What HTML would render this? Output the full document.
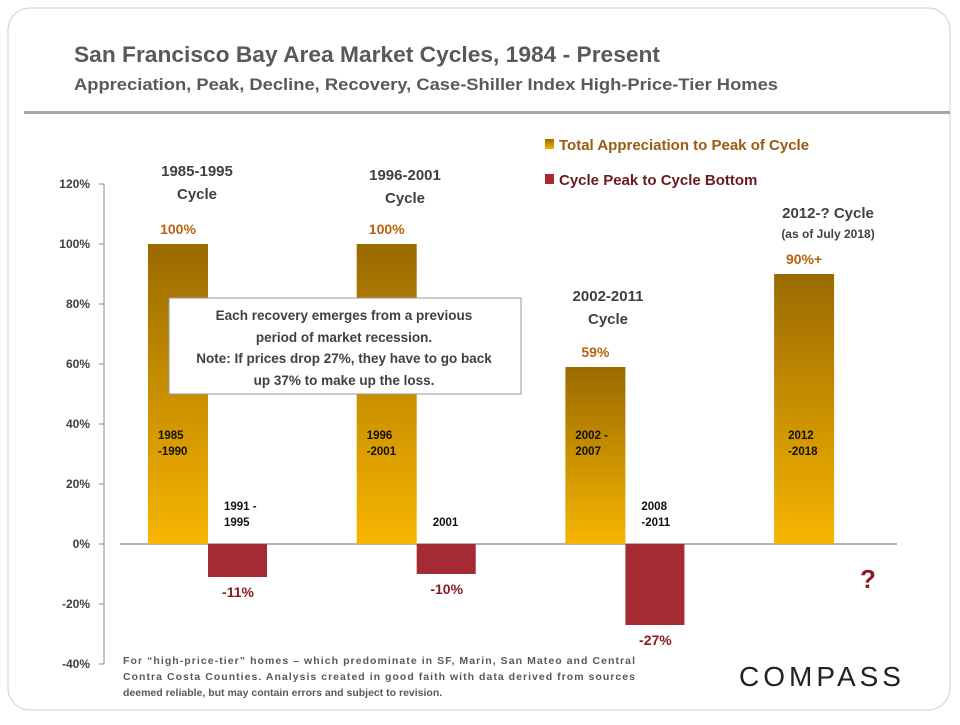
<!DOCTYPE html>
<html><head><meta charset="utf-8"><style>
body{margin:0;width:960px;height:720px;background:#fff;font-family:"Liberation Sans",sans-serif;overflow:hidden}
</style></head><body>
<svg width="960" height="720" xmlns="http://www.w3.org/2000/svg">
<defs>
<linearGradient id="gold" x1="0" y1="0" x2="0" y2="1"><stop offset="0" stop-color="#9a6a00"/><stop offset="1" stop-color="#f7b500"/></linearGradient>
</defs>
<rect x="8" y="8" width="942" height="702" rx="22" fill="#fff" stroke="#d0d0d0"/>
<text x="74" y="62" font-size="22" font-weight="bold" fill="#595959" textLength="586" lengthAdjust="spacingAndGlyphs">San Francisco Bay Area Market Cycles, 1984 - Present</text>
<text x="74" y="90" font-size="17" font-weight="bold" fill="#595959" textLength="704" lengthAdjust="spacingAndGlyphs">Appreciation, Peak, Decline, Recovery, Case-Shiller Index High-Price-Tier Homes</text>
<rect x="24" y="111" width="926" height="3" fill="#a6a6a6"/>
<g id="axis"></g>
<g id="bars"></g>
<g>
<rect x="545" y="139" width="9" height="10" fill="url(#gold)"/>
<text x="559" y="150" font-size="15" font-weight="bold" fill="#9a5a10">Total Appreciation to Peak of Cycle</text>
<rect x="545" y="174" width="9" height="10" fill="#a52a33"/>
<text x="559" y="185" font-size="15" font-weight="bold" fill="#6b1a20">Cycle Peak to Cycle Bottom</text>
</g>
<g font-size="15" font-weight="bold" fill="#404040" text-anchor="middle">
<text x="197" y="176">1985-1995</text><text x="197" y="199">Cycle</text>
<text x="405" y="180">1996-2001</text><text x="405" y="203">Cycle</text>
<text x="608" y="301">2002-2011</text><text x="608" y="324">Cycle</text>
<text x="828" y="218">2012-? Cycle</text>
<text x="828" y="238" font-size="12">(as of July 2018)</text>
</g>
<g>
<rect x="169" y="298" width="352" height="96" fill="#fff" stroke="#999"/>
<g font-size="13.5" font-weight="bold" fill="#404040" text-anchor="middle">
<text x="344" y="320">Each recovery emerges from a previous</text>
<text x="344" y="342">period of market recession.</text>
<text x="344" y="363">Note: If prices drop 27%, they have to go back</text>
<text x="344" y="385">up 37% to make up the loss.</text>
</g></g>
<text x="868" y="588" font-size="26" font-weight="bold" fill="#8b1a22" text-anchor="middle">?</text>
<g font-size="10.5" font-weight="bold" fill="#595959">
<text x="123" y="664" textLength="512" lengthAdjust="spacing">For “high-price-tier” homes – which predominate in SF, Marin, San Mateo  and Central</text>
<text x="123" y="680" textLength="512" lengthAdjust="spacing">Contra Costa Counties. Analysis created in good faith with data derived from sources</text>
<text x="123" y="696">deemed reliable, but may contain errors and subject to revision.</text>
</g>
<text x="822" y="686" font-size="28" fill="#222" text-anchor="middle" letter-spacing="4">COMPASS</text>
<script>
const ticks=[120,100,80,60,40,20,0,-20,-40];
const cycles=["1985-1995","1996-2001","2002-2011","2012-?"];
const appreciation=[100,100,59,90];
const decline=[-11,-10,-27,null];
const appLabels=["100%","100%","59%","90%+"];
const decLabels=["-11%","-10%","-27%",""];
const appPeriods=[["1985","-1990"],["1996","-2001"],["2002  -","2007"],["2012","-2018"]];
const decPeriods=[["1991  -","1995"],["2001"],["2008","-2011"],[]];
const NS="http://www.w3.org/2000/svg";
const y=v=>544-v*3;
const x0=i=>148+i*208.7;
function el(t,a,p){const e=document.createElementNS(NS,t);for(const k in a)e.setAttribute(k,a[k]);p.appendChild(e);return e;}
const ax=document.getElementById('axis');
el('line',{x1:104,y1:y(120),x2:104,y2:y(-40),stroke:'#888'},ax);
ticks.forEach(t=>{el('line',{x1:99,y1:y(t),x2:104,y2:y(t),stroke:'#888'},ax);
const tx=el('text',{x:90,y:y(t)+4,'font-size':12,'font-weight':'bold',fill:'#404040','text-anchor':'end'},ax);tx.textContent=t+'%';

});
const zl=el('line',{x1:120,y1:y(0),x2:897,y2:y(0),stroke:'#666'},ax);


const bg=document.getElementById('bars');
cycles.forEach((c,i)=>{
 const xa=x0(i);
 const r=el('rect',{x:xa,y:y(appreciation[i]),width:60,height:y(0)-y(appreciation[i]),fill:'url(#gold)'},bg);
 
 
 const l=el('text',{x:xa+30,y:y(appreciation[i])-10,'font-size':14,'font-weight':'bold',fill:'#b8620f','text-anchor':'middle'},bg);l.textContent=appLabels[i];
 
 
 appPeriods[i].forEach((s,j)=>{const t=el('text',{x:xa+10,y:y(35)+j*16,'font-size':11.5,'font-weight':'bold',fill:'#111'},bg);t.textContent=s;
 if(i==3)t.setAttribute('x',xa+14);
 
 });
 if(decline[i]!==null){
  const xd=xa+60;
  const d=el('rect',{x:xd,y:y(0),width:59,height:y(decline[i])-y(0),fill:'#a52a33'},bg);
  
  
  const dl=el('text',{x:xd+30,y:y(decline[i])+20,'font-size':14,'font-weight':'bold',fill:'#8b1a22','text-anchor':'middle'},bg);dl.textContent=decLabels[i];
  
  
  const n=decPeriods[i].length;
  decPeriods[i].forEach((s,j)=>{const t=el('text',{x:xd+16,y:y(0)-34+j*16,'font-size':11.5,'font-weight':'bold',fill:'#111'},bg);t.textContent=s;
  if(n==1)t.setAttribute('y',y(0)-18);
  
  });
 }
});
</script>
</svg>
</body></html>
